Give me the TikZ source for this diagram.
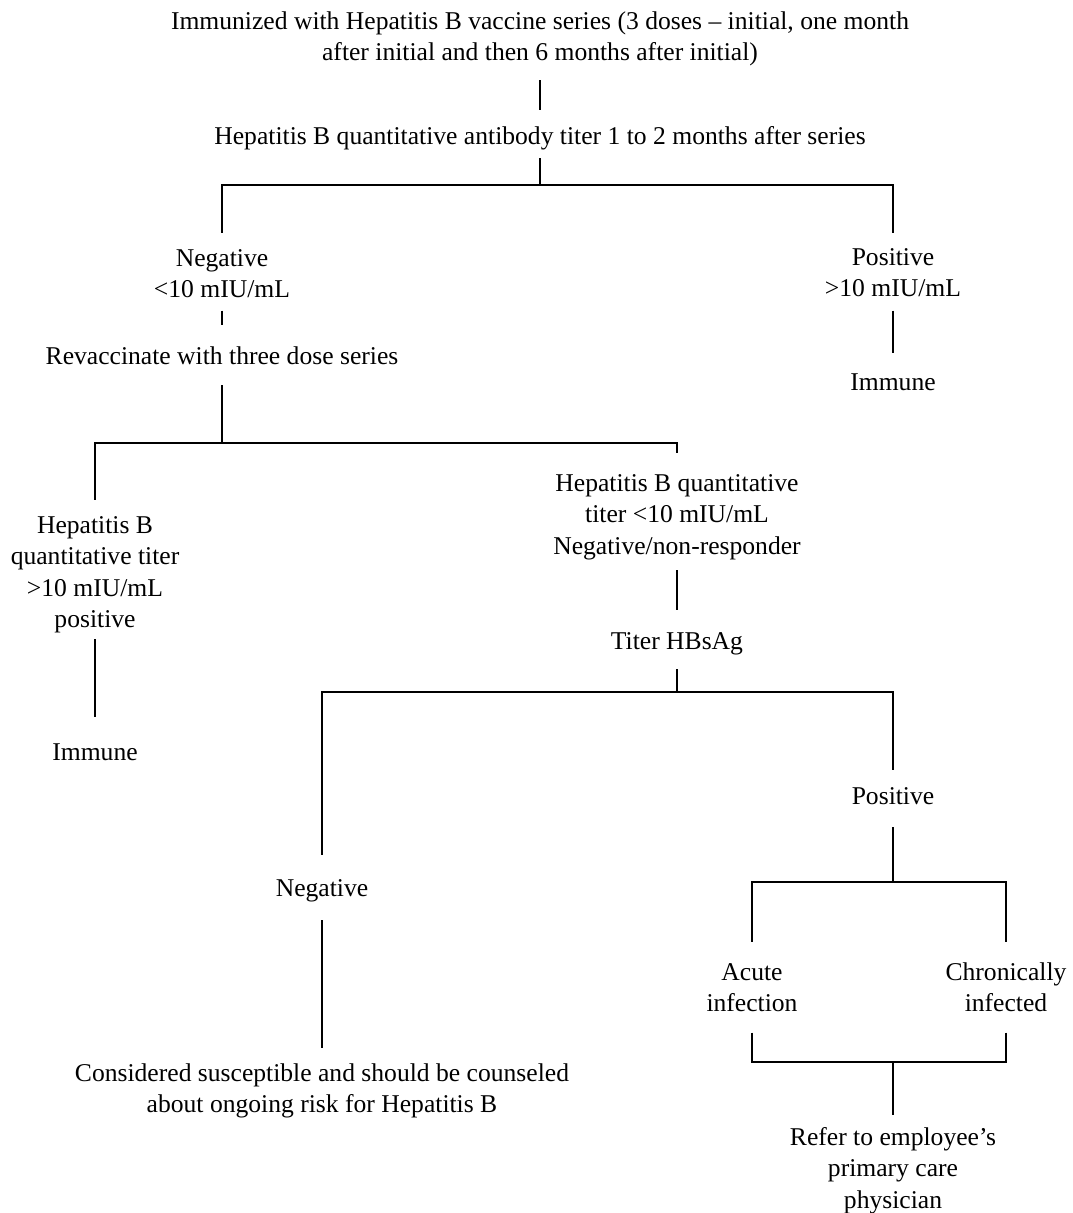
\documentclass[tikz,border=0pt]{standalone}
\usepackage{fontspec}
\setmainfont{Liberation Serif}
\usepackage{tikz}
\usetikzlibrary{positioning,calc}
\tikzset{
  txt/.style={anchor=north,inner sep=0pt,outer sep=0pt,align=center,
    font=\fontsize{25.6}{31.5}\selectfont},
  ln/.style={line width=2.4pt,black},
}
% node whose first line is centred at (#2,#3)
\newcommand{\lbl}[4]{\node[txt] (#1) at (#2,{#3-14}) {\strut#4\strut};}

\begin{document}
\begin{tikzpicture}[x=1pt,y=-1pt]
\useasboundingbox (0,0) rectangle (1072,1213);
\lbl{vacc}{540}{21}{Immunized with Hepatitis B vaccine series (3 doses – initial, one month\\after initial and then 6 months after initial)}
\lbl{titer}{540}{136}{Hepatitis B quantitative antibody titer 1 to 2 months after series}
\lbl{negA}{222}{258}{Negative\\<10 mIU/mL}
\lbl{posA}{893}{257}{Positive\\>10 mIU/mL}
\lbl{immA}{893}{382}{Immune}
\lbl{revac}{222}{356}{Revaccinate with three dose series}
\lbl{hepL}{95}{525}{Hepatitis B\\quantitative titer\\>10 mIU/mL\\positive}
\lbl{hepR}{677}{483}{Hepatitis B quantitative\\titer <10 mIU/mL\\Negative/non-responder}
\lbl{immB}{95}{752}{Immune}
\lbl{hbsag}{677}{641}{Titer HBsAg}
\lbl{posB}{893}{796}{Positive}
\lbl{negB}{322}{888}{Negative}
\lbl{acute}{752}{972}{Acute\\infection}
\lbl{chron}{1006}{972}{Chronically\\infected}
\lbl{cons}{322}{1073}{Considered susceptible and should be counseled\\about ongoing risk for Hepatitis B}
\lbl{refer}{893}{1137}{Refer to employee's\\primary care\\physician}
\coordinate (b1) at (540,185);
\coordinate (b2) at (222,443);
\coordinate (b3) at (677,692);
\coordinate (b4) at (893,882);
\coordinate (b5) at (893,1062);
\draw[ln,shorten <=10pt,shorten >=12pt] (vacc) -- (titer);
\draw[ln,shorten <=4.5pt] (titer) -- (b1);
\draw[ln,shorten >=11pt] (b1) -| (negA);
\draw[ln,shorten >=10pt] (b1) -| (posA);
\draw[ln,shorten <=3.5pt,shorten >=17pt] (negA) -- (revac);
\draw[ln,shorten <=4.5pt,shorten >=15pt] (posA) -- (immA);
\draw[ln,shorten <=11.5pt] (revac) -- (b2);
\draw[ln,shorten >=11pt] (b2) -| (hepL);
\draw[ln,shorten >=16pt] (b2) -| (hepR);
\draw[ln,shorten <=2pt,shorten >=21pt] (hepL) -- (immB);
\draw[ln,shorten <=6.5pt,shorten >=17pt] (hepR) -- (hbsag);
\draw[ln,shorten <=10.5pt] (hbsag) -- (b3);
\draw[ln,shorten >=19pt] (b3) -| (negB);
\draw[ln,shorten >=12pt] (b3) -| (posB);
\draw[ln,shorten <=14.5pt,shorten >=11pt] (negB) -- (cons);
\draw[ln,shorten <=13.5pt] (posB) -- (b4);
\draw[ln,shorten >=16pt] (b4) -| (acute);
\draw[ln,shorten >=16pt] (b4) -| (chron);
\draw[ln,shorten <=11.5pt] (acute) |- (b5);
\draw[ln,shorten <=11.5pt] (chron) |- (b5);
\draw[ln,shorten >=8pt] (b5) -- (refer);
\end{tikzpicture}
\end{document}
